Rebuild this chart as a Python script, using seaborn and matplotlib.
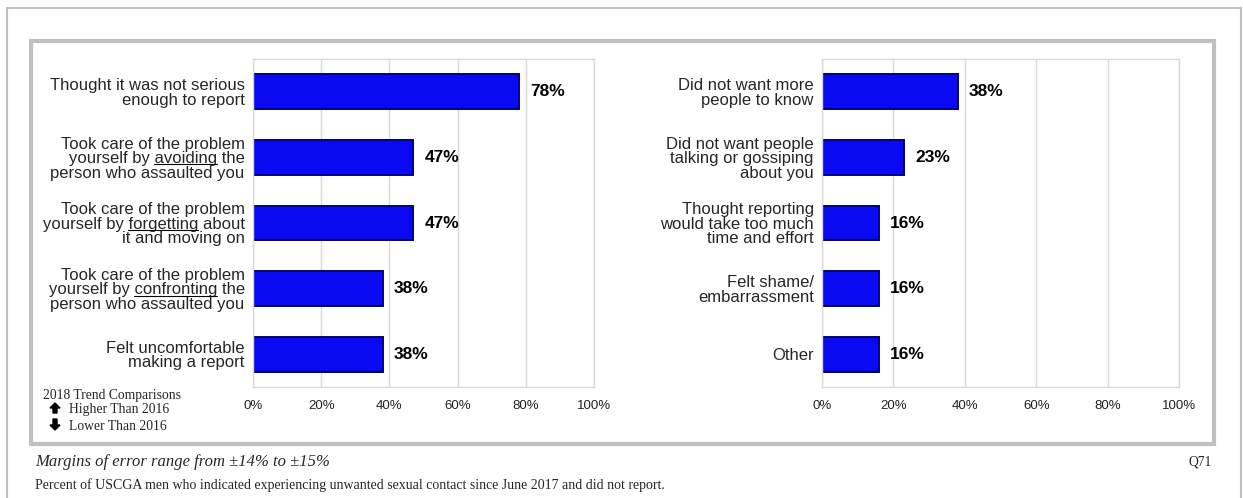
import numpy as np
import matplotlib
matplotlib.use('Agg')
import matplotlib.pyplot as plt
import seaborn as sns
from matplotlib.patches import Rectangle, FancyArrow
from matplotlib.lines import Line2D
from matplotlib.transforms import IdentityTransform

# Data
left_labels = ["Thought it was not serious\nenough to report",
               "Took care of the problem\nyourself by avoiding the\nperson who assaulted you",
               "Took care of the problem\nyourself by forgetting about\nit and moving on",
               "Took care of the problem\nyourself by confronting the\nperson who assaulted you",
               "Felt uncomfortable\nmaking a report"]
left_values = [78, 47, 47, 38, 38]
left_underline = [None, "avoiding", "forgetting", "confronting", None]

right_labels = ["Did not want more\npeople to know",
                "Did not want people\ntalking or gossiping\nabout you",
                "Thought reporting\nwould take too much\ntime and effort",
                "Felt shame/\nembarrassment",
                "Other"]
right_values = [38, 23, 16, 16, 16]
right_underline = [None, None, None, None, None]

x_ticks = [0, 20, 40, 60, 80, 100]
x_tick_labels = ["0%", "20%", "40%", "60%", "80%", "100%"]

sns.set_style('white')
plt.rcParams['font.family'] = ['Liberation Sans', 'DejaVu Sans']

W, H = 1243, 498
fig = plt.figure(figsize=(W / 100, H / 100), dpi=100)


def px(x0, y0, x1, y1):
    # pixel box -> figure fraction [left, bottom, width, height]
    return [x0 / W, 1 - y1 / H, (x1 - x0) / W, (y1 - y0) / H]


bar_color = '#0a0af2'
edge_color = '#00007a'
grid_color = '#d9d9d9'

ax_left = fig.add_axes(px(253, 59, 594, 387))
ax_right = fig.add_axes(px(822, 59, 1179, 387))

for ax, labels, values in [(ax_left, left_labels, left_values),
                           (ax_right, right_labels, right_values)]:
    sns.barplot(x=values, y=labels, orient='h', color=bar_color, saturation=1,
                width=0.53, edgecolor=edge_color, linewidth=1.4, ax=ax)
    ax.bar_label(ax.containers[0], labels=[f"{v}%" for v in values], padding=8,
                 fontsize=12.5, fontweight='bold', color='black')
    ax.set_xlim(0, 100)
    ax.set_xticks(x_ticks)
    ax.set_xticklabels(x_tick_labels, fontsize=9.5, color='#222222')
    ax.tick_params(axis='x', length=0, pad=9)
    ax.tick_params(axis='y', length=0, pad=6, labelsize=12)
    for t in ax.get_yticklabels():
        t.set_linespacing(0.97)
    ax.grid(axis='x', color=grid_color, linewidth=1)
    ax.set_axisbelow(True)
    for s in ax.spines.values():
        s.set_color(grid_color)
        s.set_linewidth(1)
    ax.set_xlabel('')
    ax.set_ylabel('')

# Frames
fig.add_artist(Rectangle((7 / W, -0.1), (1241 - 7) / W, 1.1 - 8 / H, transform=fig.transFigure,
                         fill=False, edgecolor='#c0c0c0', linewidth=1.5))
fig.add_artist(Rectangle((31 / W, 1 - 444 / H), (1214 - 31) / W, (444 - 41) / H,
                         transform=fig.transFigure, fill=False, edgecolor='#c0c0c0',
                         linewidth=3))

# Trend legend
serif = ['Liberation Serif', 'DejaVu Serif']
fig.text(43 / W, 1 - 395 / H, "2018 Trend Comparisons", family=serif, fontsize=9.8,
         va='center', ha='left')
fig.text(69 / W, 1 - 409 / H, "Higher Than 2016", family=serif, fontsize=9.8, va='center', ha='left')
fig.text(69 / W, 1 - 426 / H, "Lower Than 2016", family=serif, fontsize=9.8, va='center', ha='left')
# block arrows (pixel space, y measured from the bottom)
fig.add_artist(FancyArrow(55, H - 413, 0, 10, width=4, head_width=10, head_length=5,
                          length_includes_head=True, color='black', transform=IdentityTransform()))
fig.add_artist(FancyArrow(55, H - 419, 0, -11, width=4, head_width=10, head_length=5,
                          length_includes_head=True, color='black', transform=IdentityTransform()))

# Footer
fig.text(35 / W, 1 - 462 / H, "Margins of error range from \u00b114% to \u00b115%", family=serif,
         style='italic', fontsize=12, va='center', ha='left')
fig.text(1212 / W, 1 - 462 / H, "Q71", family=serif, fontsize=9.8, va='center', ha='right')
fig.text(35 / W, 1 - 485 / H,
         "Percent of USCGA men who indicated experiencing unwanted sexual contact since June 2017 and did not report.",
         family=serif, fontsize=10, va='center', ha='left')

# Underline selected words in the category labels
fig.canvas.draw()
renderer = fig.canvas.get_renderer()
for ax, words in [(ax_left, left_underline), (ax_right, right_underline)]:
    for lbl, word in zip(ax.get_yticklabels(), words):
        if not word:
            continue
        lines = lbl.get_text().split('\n')
        idx = [i for i, ln in enumerate(lines) if word in ln][0]
        line = lines[idx]
        prop = lbl.get_fontproperties()
        bb = lbl.get_window_extent(renderer)
        w_line = renderer.get_text_width_height_descent(line, prop, ismath=False)[0]
        pre = line[:line.index(word) + len(word)]
        w_pre = renderer.get_text_width_height_descent(pre, prop, ismath=False)[0]
        w_word = renderer.get_text_width_height_descent(word, prop, ismath=False)[0]
        x_end = bb.x1 - w_line + w_pre
        x_start = x_end - w_word
        line_h = bb.height / len(lines)
        y = bb.y1 - (idx + 1) * line_h + 0.12 * line_h
        (fx0, fy), (fx1, _) = fig.transFigure.inverted().transform([(x_start, y), (x_end, y)])
        fig.add_artist(Line2D([fx0, fx1], [fy, fy], transform=fig.transFigure,
                              color='black', linewidth=0.8))

fig.savefig('out.png', dpi=100, facecolor='white')
